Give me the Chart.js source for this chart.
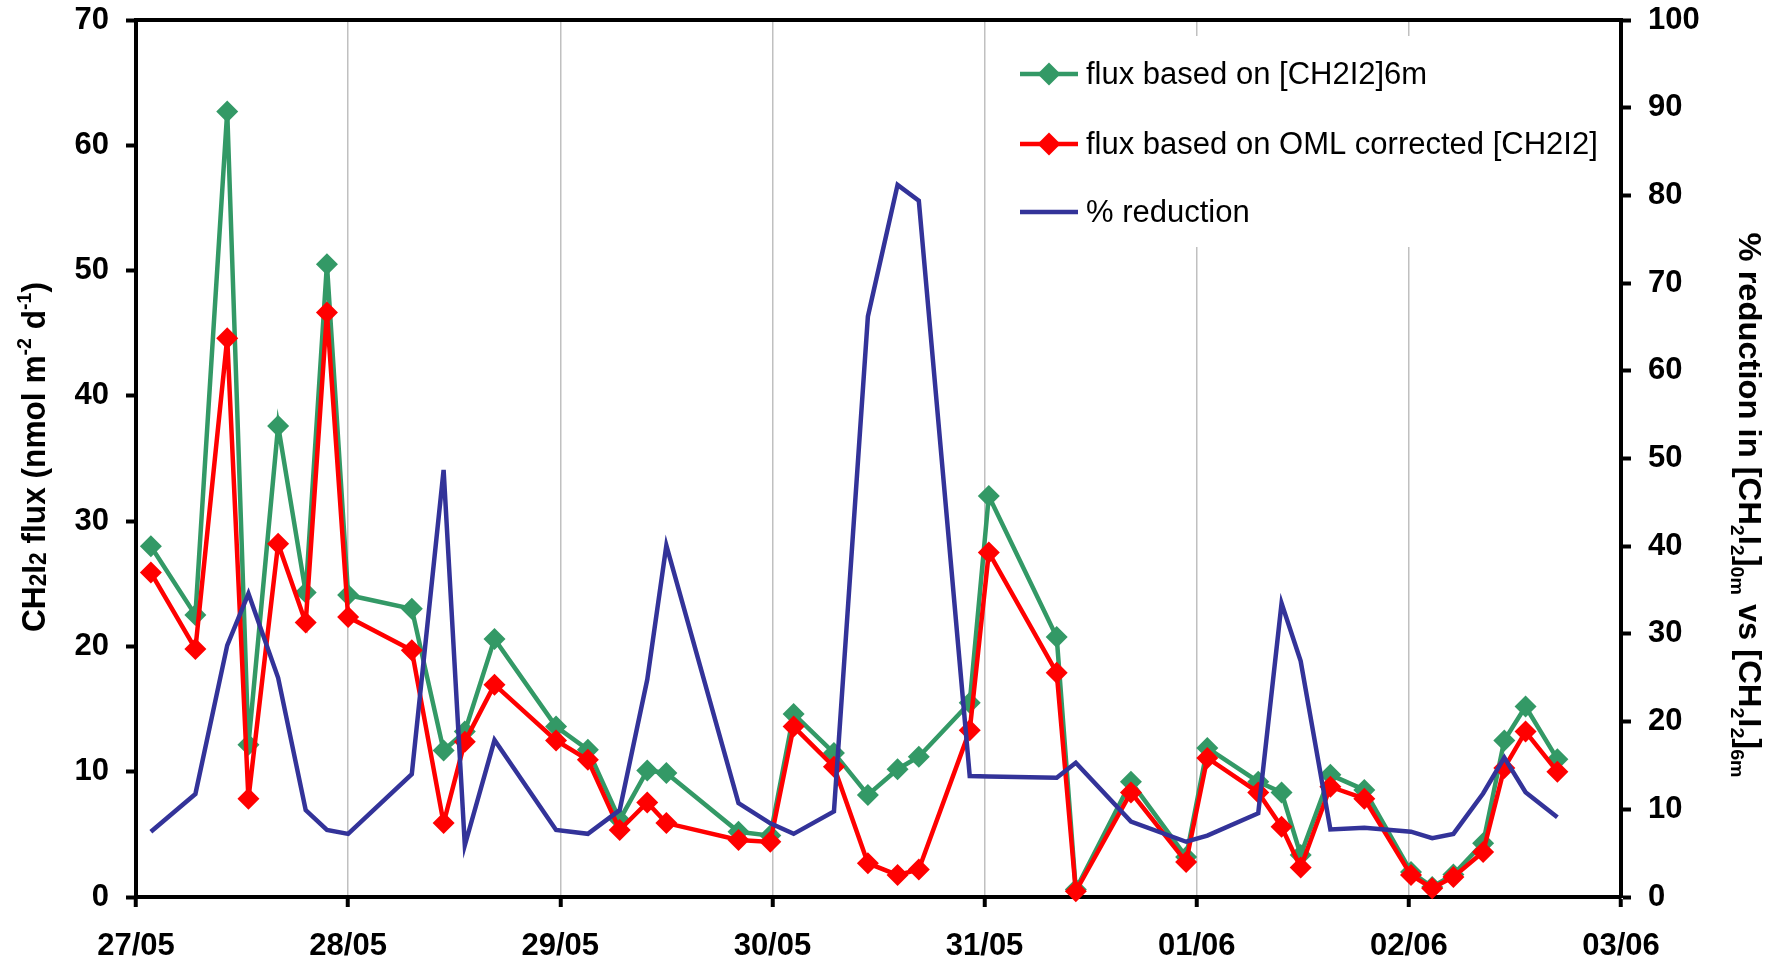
<!DOCTYPE html>
<html>
<head>
<meta charset="utf-8">
<title>CH2I2 flux</title>
<script src="https://cdn.jsdelivr.net/npm/chart.js@4.4.1/dist/chart.umd.min.js"></script>
<style>
    html, body { margin: 0; padding: 0; background: #ffffff; }
    #wrap { width: 1781px; height: 963px; }
</style>
</head>
<body>
<div id="wrap"><canvas id="myChart" width="1781" height="963"></canvas></div>
<script>
// x axis labels, one per day (the x values below are days counted from 27/05 00:00)
const dayLabels = ['27/05', '28/05', '29/05', '30/05', '31/05', '01/06', '02/06', '03/06'];

const times = [0.07, 0.28, 0.43, 0.53, 0.67, 0.80, 0.90, 1.00, 1.30, 1.45, 1.55, 1.69, 1.98, 2.13,
    2.28, 2.41, 2.50, 2.84, 2.99, 3.10, 3.29, 3.45, 3.59, 3.69, 3.93, 4.02, 4.34, 4.43, 4.69, 4.95,
    5.05, 5.29, 5.40, 5.49, 5.63, 5.79, 6.01, 6.11, 6.21, 6.35, 6.45, 6.55, 6.70];

// flux based on [CH2I2]6m (left axis)
const flux6m = [28.0, 22.5, 62.7, 12.15, 37.6, 24.3, 50.5, 24.1, 23.0, 11.7, 13.2, 20.6, 13.6, 11.75,
    6.15, 10.1, 9.9, 5.2, 4.9, 14.6, 11.5, 8.15, 10.2, 11.2, 15.5, 32.0, 20.75, 0.6, 9.2, 3.2,
    11.9, 9.2, 8.35, 3.35, 9.75, 8.55, 2.0, 0.8, 1.8, 4.3, 12.5, 15.2, 11.0];

// flux based on OML corrected [CH2I2] (left axis)
const fluxOml = [25.9, 19.8, 44.6, 7.85, 28.2, 21.9, 46.65, 22.35, 19.7, 5.9, 12.4, 16.95, 12.5, 10.95,
    5.35, 7.55, 5.9, 4.55, 4.4, 13.6, 10.4, 2.7, 1.75, 2.2, 13.3, 27.5, 17.9, 0.45, 8.35, 2.8,
    11.1, 8.35, 5.6, 2.35, 8.8, 7.85, 1.75, 0.7, 1.6, 3.6, 10.3, 13.2, 10.0];

// % reduction (right axis)
const reduction = [7.45, 11.75, 28.7, 34.6, 25.0, 9.9, 7.65, 7.2, 14.0, 48.7, 5.9, 17.9, 7.65, 7.2,
    9.9, 24.8, 40.1, 10.7, 8.4, 7.2, 9.75, 66.2, 81.2, 79.4, 13.8, 13.75, 13.6, 15.3, 8.6, 6.3,
    7.0, 9.55, 33.5, 26.9, 7.7, 7.9, 7.45, 6.7, 7.2, 11.8, 15.9, 11.95, 9.1];

const seriesNames = ['flux based on [CH2I2]6m', 'flux based on OML corrected [CH2I2]', '% reduction'];

const family = '"Liberation Sans", Arial, sans-serif';
const tickFont = { family: family, size: 31, weight: 'bold' };

// pairs each value with its time so the linear x scale can place it
function toPoints(values) {
    return values.map((v, i) => ({ x: times[i], y: v }));
}

// draws a line of text with smaller raised/lowered pieces, centred on (0, 0)
// each part is [text, size factor, vertical shift as fraction of the font size]
// the text is squeezed along its length so it takes exactly `length` pixels
function drawRichText(ctx, parts, size, length) {
    let total = 0;
    parts.forEach(p => {
        ctx.font = 'bold ' + (size * p[1]) + 'px ' + family;
        total += ctx.measureText(p[0]).width;
    });
    ctx.scale(length / total, 1);
    let x = -total / 2;
    parts.forEach(p => {
        ctx.font = 'bold ' + (size * p[1]) + 'px ' + family;
        ctx.fillText(p[0], x, p[2] * size);
        x += ctx.measureText(p[0]).width;
    });
}

function drawDiamond(ctx, x, y, r) {
    ctx.beginPath();
    ctx.moveTo(x - r, y);
    ctx.lineTo(x, y - r);
    ctx.lineTo(x + r, y);
    ctx.lineTo(x, y + r);
    ctx.closePath();
    ctx.fill();
}

// keeps the plot area where the picture has it, no extra room for half tick labels
function fixWidth(width) {
    return s => {
        s.width = width;
        s.paddingTop = 0;
        s.paddingBottom = 0;
    };
}

// top frame line, the legend box inside the plot and both axis titles
const extrasPlugin = {
    id: 'extras',
    afterDraw(chart) {
        const ctx = chart.ctx;
        const area = chart.chartArea;
        ctx.save();

        ctx.strokeStyle = '#000';
        ctx.lineWidth = 4;
        ctx.beginPath();
        ctx.moveTo(area.left - 2, area.top);
        ctx.lineTo(area.right + 2, area.top);
        ctx.stroke();

        // legend
        ctx.fillStyle = '#ffffff';
        ctx.fillRect(1020, 36, 585, 211);
        const order = [2, 1, 0];
        const rows = [74, 144, 212];
        order.forEach((dsIndex, row) => {
            const ds = chart.data.datasets[dsIndex];
            const y = rows[row];
            ctx.strokeStyle = ds.borderColor;
            ctx.lineWidth = 4.5;
            ctx.beginPath();
            ctx.moveTo(1020, y);
            ctx.lineTo(1078, y);
            ctx.stroke();
            if (ds.pointRadius > 0) {
                ctx.fillStyle = ds.borderColor;
                drawDiamond(ctx, 1049, y, 11.5);
            }
            ctx.fillStyle = '#000';
            ctx.font = '31px ' + family;
            ctx.textBaseline = 'middle';
            ctx.textAlign = 'left';
            ctx.fillText(seriesNames[row], 1086, y + 1);
        });

        // axis titles
        ctx.fillStyle = '#000';
        ctx.textBaseline = 'alphabetic';
        ctx.textAlign = 'left';

        ctx.save();
        ctx.translate(45, 457);
        ctx.rotate(-Math.PI / 2);
        drawRichText(ctx, [
            ['CH', 1, 0], ['2', 0.72, 0.02], ['I', 1, 0], ['2', 0.72, 0.02],
            [' flux (nmol m', 1, 0], ['-2', 0.62, -0.4], [' d', 1, 0], ['-1', 0.62, -0.4], [')', 1, 0]
        ], 34, 350);
        ctx.restore();

        ctx.save();
        ctx.translate(1739, 505);
        ctx.rotate(Math.PI / 2);
        drawRichText(ctx, [
            ['% reduction in [CH', 1, 0], ['2', 0.6, 0.25], ['I', 1, 0], ['2', 0.6, 0.25], [']', 1, 0], ['0m', 0.6, 0.25],
            [' vs [CH', 1, 0], ['2', 0.6, 0.25], ['I', 1, 0], ['2', 0.6, 0.25], [']', 1, 0], ['6m', 0.6, 0.25]
        ], 32, 545);
        ctx.restore();

        ctx.restore();
    }
};

function myChart() {
    const ctx = document.getElementById('myChart').getContext('2d');

    const datasets = [
        {
            label: seriesNames[2],
            data: toPoints(reduction),
            yAxisID: 'y2',
            borderColor: '#333399',
            borderWidth: 4.5,
            pointRadius: 0,
            order: 0
        },
        {
            label: seriesNames[1],
            data: toPoints(fluxOml),
            yAxisID: 'y',
            borderColor: '#ff0000',
            backgroundColor: '#ff0000',
            borderWidth: 4.5,
            pointStyle: 'rectRot',
            pointRadius: 11,
            pointBorderWidth: 0,
            order: 1
        },
        {
            label: seriesNames[0],
            data: toPoints(flux6m),
            yAxisID: 'y',
            borderColor: '#339966',
            backgroundColor: '#339966',
            borderWidth: 4.5,
            pointStyle: 'rectRot',
            pointRadius: 11,
            pointBorderWidth: 0,
            order: 2
        }
    ];

    return new Chart(ctx, {
        type: 'line',
        data: { datasets: datasets },
        options: {
            responsive: false,
            animation: false,
            devicePixelRatio: 1,
            layout: { padding: { top: 20, left: 0, right: 0, bottom: 0 } },
            elements: { line: { tension: 0 } },
            datasets: { line: { clip: false } },
            plugins: {
                legend: { display: false },
                tooltip: { enabled: false }
            },
            scales: {
                x: {
                    type: 'linear',
                    min: 0,
                    max: 7,
                    ticks: {
                        stepSize: 1,
                        autoSkip: false,
                        maxRotation: 0,
                        font: tickFont,
                        color: '#000',
                        padding: 21,
                        callback: v => dayLabels[Math.round(v)]
                    },
                    grid: {
                        color: c => (c.index === 0 || c.index === 7) ? 'rgba(0,0,0,0)' : '#c0c0c0',
                        lineWidth: 1.5,
                        tickColor: '#000',
                        tickWidth: 4,
                        tickLength: 10
                    },
                    border: { color: '#000', width: 4 },
                    afterFit: s => {
                        s.height = 66;
                        s.paddingLeft = 0;
                        s.paddingRight = 0;
                    }
                },
                y: {
                    position: 'left',
                    min: 0,
                    max: 70,
                    ticks: { stepSize: 10, font: tickFont, color: '#000', padding: 17 },
                    grid: { drawOnChartArea: false, tickColor: '#000', tickWidth: 4, tickLength: 10 },
                    border: { color: '#000', width: 4 },
                    afterFit: fixWidth(136)
                },
                y2: {
                    position: 'right',
                    min: 0,
                    max: 100,
                    ticks: { stepSize: 10, font: tickFont, color: '#000', padding: 17 },
                    grid: { drawOnChartArea: false, tickColor: '#000', tickWidth: 4, tickLength: 10 },
                    border: { color: '#000', width: 4 },
                    afterFit: fixWidth(160)
                }
            }
        },
        plugins: [extrasPlugin]
    });
}

myChart();
</script>
</body>
</html>
